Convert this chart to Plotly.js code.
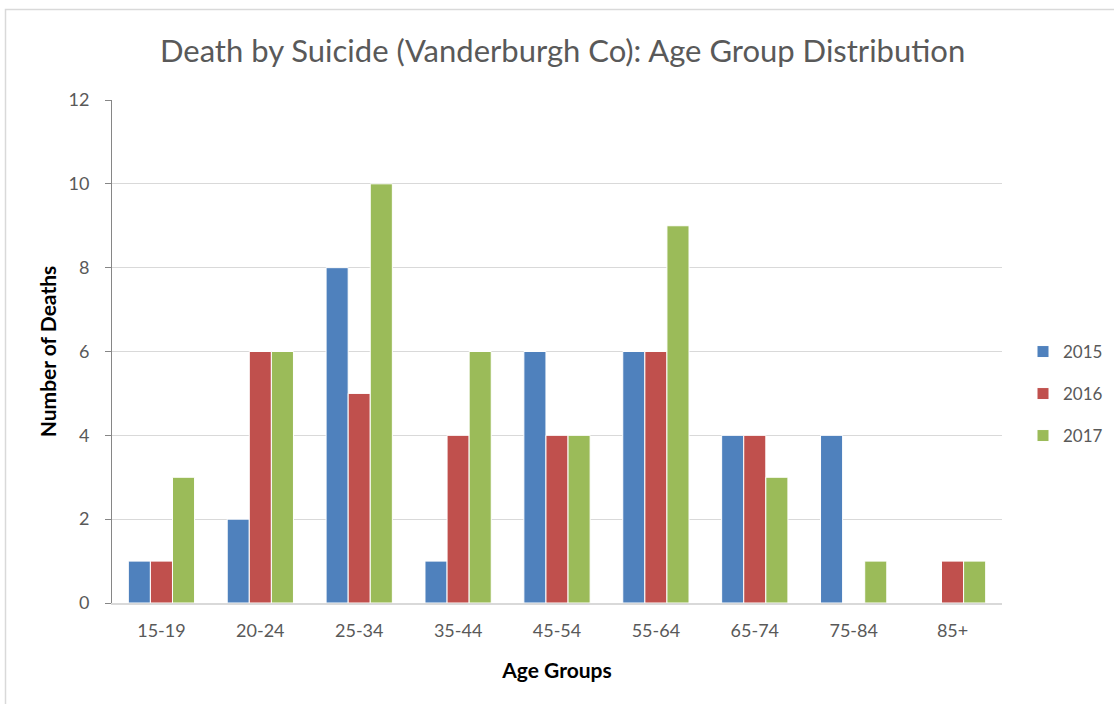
<!DOCTYPE html>
<html>
<head>
<meta charset="utf-8">
<script src="https://cdn.plot.ly/plotly-3.0.1.min.js"></script>
<style>
html,body{margin:0;padding:0;background:#fff;}
#chart{width:1114px;height:704px;}
</style>
</head>
<body>
<div id="chart"></div>
<script>
var categories = ["15-19","20-24","25-34","35-44","45-54","55-64","65-74","75-84","85+"];
var years = ["2015","2016","2017"];
var deaths2015 = [1, 2, 8, 1, 6, 6, 4, 4, 0];
var deaths2016 = [1, 6, 5, 4, 4, 6, 4, 0, 1];
var deaths2017 = [3, 6, 10, 6, 4, 9, 3, 1, 1];
var colors = ["#4f81bd", "#c0504d", "#9bbb59"];
var yTicks = [0, 2, 4, 6, 8, 10, 12];

var legendIds = ["legend", "legend2", "legend3"];
var series = [deaths2015, deaths2016, deaths2017];
var traces = series.map(function(vals, i){
  return {
    type: "bar",
    name: years[i],
    x: categories,
    y: vals,
    legend: legendIds[i],
    marker: {color: colors[i], line: {color: "#ffffff", width: 1}},
    hoverinfo: "x+y+name"
  };
});

var fontFam = "Lato, 'Open Sans', 'Liberation Sans', sans-serif";
var W = 1114, H = 704, L = 112, R = 112, T = 100, B = 101;
var pw = W - L - R, ph = H - T - B;
function px(x){ return (x - L) / pw; }
function py(y){ return (H - B - y) / ph; }

function legendAt(yc){
  return {
    x: px(1023), xanchor: "left",
    y: py(yc), yanchor: "middle",
    font: {family: fontFam, size: 17, color: "#595959"},
    itemwidth: 30,
    bgcolor: "rgba(0,0,0,0)",
    borderwidth: 0
  };
}

var layout = {
  width: W, height: H,
  margin: {l: L, r: R, t: T, b: B, autoexpand: false},
  paper_bgcolor: "#ffffff",
  plot_bgcolor: "#ffffff",
  font: {family: fontFam, color: "#595959", size: 18},
  showlegend: true,
  title: {
    text: "Death by Suicide (Vanderburgh Co): Age Group Distribution",
    font: {family: fontFam, size: 31, color: "#595959"},
    x: 0.505, xanchor: "center", y: 0.928, yanchor: "middle"
  },
  barmode: "group",
  bargap: 0.33,
  bargroupgap: 0,
  xaxis: {
    type: "category",
    tickfont: {size: 18, color: "#595959"},
    showline: true, linecolor: "#d9d9d9", linewidth: 2,
    ticks: "", showgrid: false,
    ticklabelstandoff: 10,
    title: {text: "<b>Age Groups</b>", font: {size: 21, color: "#000000"}, standoff: 24}
  },
  yaxis: {
    range: [0, 12],
    tickvals: yTicks,
    ticktext: yTicks.map(String),
    tickfont: {size: 18, color: "#595959"},
    showline: true, linecolor: "#868686", linewidth: 1,
    ticks: "outside", ticklen: 6, tickcolor: "#868686",
    ticklabelstandoff: 12,
    showgrid: true, gridcolor: "#d9d9d9", gridwidth: 1,
    zeroline: false,
    title: {text: "<b>Number of Deaths</b>", font: {size: 21, color: "#000000"}, standoff: 6}
  },
  legend: legendAt(352),
  legend2: legendAt(394),
  legend3: legendAt(436),
  shapes: [{
    type: "rect", xref: "paper", yref: "paper",
    x0: px(5.5), x1: px(1125), y0: py(715), y1: py(9.5),
    line: {color: "#d9d9d9", width: 1.5}, fillcolor: "rgba(0,0,0,0)", layer: "below"
  }]
};

Plotly.newPlot("chart", traces, layout, {displayModeBar: false, staticPlot: true});
</script>
</body>
</html>
